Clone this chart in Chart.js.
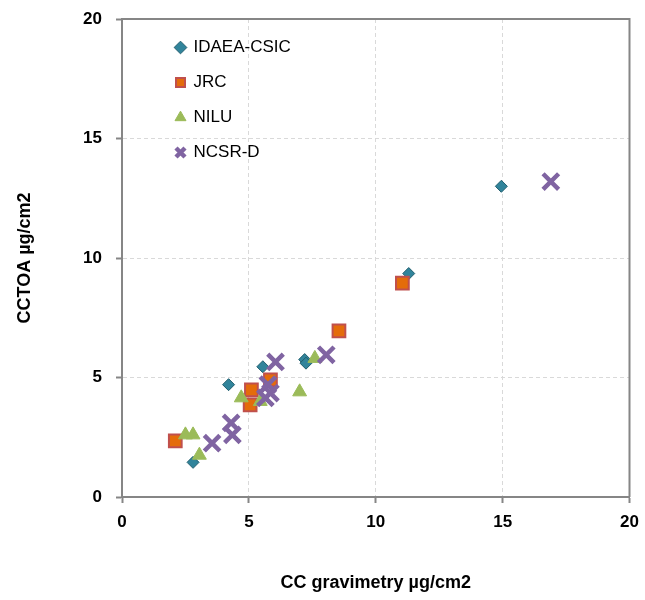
<!DOCTYPE html>
<html>
<head>
<meta charset="utf-8">
<script src="https://cdn.jsdelivr.net/npm/chart.js@4.4.1/dist/chart.umd.min.js"></script>
<style>
  html, body { margin: 0; padding: 0; background: #fff; }
  #wrap { width: 645px; height: 600px; }
</style>
</head>
<body>
<div id="wrap"><canvas id="myChart" width="645" height="600"></canvas></div>
<script>
// values
const seriesNames = ["IDAEA-CSIC", "JRC", "NILU", "NCSR-D"];
const xTicks = [0, 5, 10, 15, 20];
const yTicks = [0, 5, 10, 15, 20];

const idaeaX = [2.8, 4.2, 5.55, 7.2, 7.25, 11.3, 14.95];
const idaeaY = [1.45, 4.7, 5.45, 5.75, 5.6, 9.35, 13.0];
const jrcX = [2.1, 5.05, 5.1, 5.85, 8.55, 11.05];
const jrcY = [2.35, 3.85, 4.48, 4.9, 6.95, 8.95];
const niluX = [2.5, 2.8, 3.05, 4.7, 5.45, 7.0, 7.6];
const niluY = [2.6, 2.6, 1.75, 4.15, 4.0, 4.4, 5.8];
const ncsrX = [3.55, 4.3, 4.35, 5.75, 5.85, 5.65, 6.05, 8.05, 16.9];
const ncsrY = [2.25, 3.1, 2.6, 4.7, 4.35, 4.15, 5.65, 5.95, 13.2];

const pts = (xs, ys) => xs.map((x, i) => ({ x: x, y: ys[i] }));

const frame = {
  id: "frame",
  afterLayout(chart) {
    // put the legend inside the plot, near the top left
    chart.legend.left = chart.chartArea.left + 36;
    chart.legend.top = chart.chartArea.top + 2;
  },
  beforeDatasetsDraw(chart) {
    const a = chart.chartArea;
    const ctx = chart.ctx;
    ctx.save();
    ctx.strokeStyle = "#868686";
    ctx.lineWidth = 2;
    ctx.beginPath();
    ctx.moveTo(a.left, a.top);
    ctx.lineTo(a.right, a.top);
    ctx.lineTo(a.right, a.bottom);
    ctx.stroke();
    ctx.restore();
  }
};

window.onload = () => {
  const ctx = document.getElementById("myChart").getContext("2d");
  new Chart(ctx, {
    type: "scatter",
    data: {
      datasets: [
        {
          label: seriesNames[0],
          data: pts(idaeaX, idaeaY),
          pointStyle: "rectRot",
          pointRadius: 6,
          backgroundColor: "#31849B",
          borderColor: "#215E6E",
          borderWidth: 1,
          order: 3
        },
        {
          label: seriesNames[1],
          data: pts(jrcX, jrcY),
          pointStyle: "rect",
          pointRadius: 9,
          backgroundColor: "#E46C0A",
          borderColor: "#C0504D",
          borderWidth: 2,
          order: 2
        },
        {
          label: seriesNames[2],
          data: pts(niluX, niluY),
          pointStyle: "triangle",
          pointRadius: 8,
          backgroundColor: "#9BBB59",
          borderColor: "#9BBB59",
          borderWidth: 1,
          order: 1
        },
        {
          label: seriesNames[3],
          data: pts(ncsrX, ncsrY),
          pointStyle: "crossRot",
          pointRadius: 11,
          backgroundColor: "#8064A2",
          borderColor: "#8064A2",
          borderWidth: 4.5,
          order: 0
        }
      ]
    },
    options: {
      responsive: false,
      animation: false,
      layout: { padding: { top: 19, right: 14, left: 0, bottom: 0 } },
      plugins: {
        tooltip: { enabled: false },
        legend: {
          position: "chartArea",
          align: "start",
          labels: {
            usePointStyle: true,
            boxWidth: 9,
            boxHeight: 9,
            padding: 18,
            color: "#000",
            font: { family: "Liberation Sans", size: 17 },
            sort: (a, b) => a.datasetIndex - b.datasetIndex
          }
        }
      },
      scales: {
        x: {
          type: "linear",
          min: 0,
          max: 20,
          afterFit: (s) => { s.height = 103; s.paddingLeft = 0; s.paddingRight = 0; },
          afterBuildTicks: (s) => { s.ticks = xTicks.map((v) => ({ value: v })); },
          ticks: {
            color: "#000",
            padding: 9,
            font: { family: "Liberation Sans", size: 17, weight: "bold" }
          },
          grid: {
            color: "#D9D9D9",
            tickColor: "#868686",
            tickWidth: 2,
            tickLength: 6
          },
          border: { color: "#868686", width: 2, dash: [4, 3] },
          title: {
            display: true,
            text: "CC gravimetry µg/cm2",
            color: "#000",
            padding: { top: 0, bottom: 6 },
            font: { family: "Liberation Sans", size: 18, weight: "bold" }
          }
        },
        y: {
          type: "linear",
          min: 0,
          max: 20,
          afterFit: (s) => { s.width = 122; s.paddingTop = 0; s.paddingBottom = 0; },
          afterBuildTicks: (s) => { s.ticks = yTicks.map((v) => ({ value: v })); },
          ticks: {
            color: "#000",
            padding: 14,
            font: { family: "Liberation Sans", size: 17, weight: "bold" }
          },
          grid: {
            color: "#D9D9D9",
            tickColor: "#868686",
            tickWidth: 2,
            tickLength: 6
          },
          border: { color: "#868686", width: 2, dash: [4, 3] },
          title: {
            display: true,
            text: "CCTOA µg/cm2",
            color: "#000",
            padding: { top: 14, bottom: 0 },
            font: { family: "Liberation Sans", size: 18, weight: "bold" }
          }
        }
      }
    },
    plugins: [frame]
  });
};
</script>
</body>
</html>
